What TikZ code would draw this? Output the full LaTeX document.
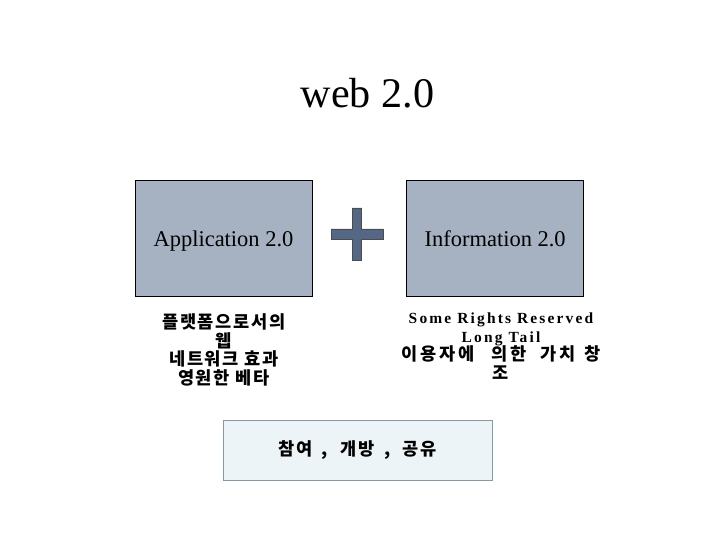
\documentclass[tikz,border=0pt]{standalone}
\usepackage{fontspec}
\setmainfont{Liberation Serif}
\newfontfamily\korfont{Noto Sans CJK KR}[LetterSpace=10]
\newfontfamily\korwide{Noto Sans CJK KR}[LetterSpace=16]
\newfontfamily\latfont{Liberation Serif}[LetterSpace=14]
\usepackage{tikz}
\usetikzlibrary{positioning}
\definecolor{boxcolor}{RGB}{166,177,193}
\definecolor{pluscolor}{RGB}{84,103,132}
\definecolor{notecolor}{RGB}{236,244,247}
\definecolor{noteedge}{RGB}{135,152,160}

\begin{document}
\begin{tikzpicture}[
    x=0.02cm, y=-0.02cm,
    block/.style={rectangle, draw=black, fill=boxcolor, minimum width=3.54cm, minimum height=2.32cm, text height=11pt, text depth=1.2pt, font=\fontsize{12.8}{15}\selectfont},
    feature/.style={align=center, font=\korfont\bfseries\fontsize{10}{10.6}\selectfont, inner sep=0pt},
    summary/.style={rectangle, draw=noteedge, fill=notecolor, minimum width=5.38cm, minimum height=1.2cm, font=\korfont\bfseries\fontsize{10}{12}\selectfont},
    plussign/.style={draw=black!70, fill=pluscolor, line width=0.5pt}
]
    \useasboundingbox (0,0) rectangle (728,546);

    \node[anchor=base] (title) at (367.5,107.7) {\fontsize{24}{28}\selectfont web 2.0};

    \node[block] (app) at (223.5,238) {Application 2.0};
    \node[block, right=1.88cm of app] (info) {Information 2.0};

    % plus between the two boxes
    \coordinate (plus) at (357,234);
    \draw[plussign] ([shift={(-4.8,-26)}]plus) -- ([shift={(4.8,-26)}]plus)
        -- ([shift={(4.8,-5)}]plus) -- ([shift={(26,-5)}]plus)
        -- ([shift={(26,5)}]plus) -- ([shift={(4.8,5)}]plus)
        -- ([shift={(4.8,26)}]plus) -- ([shift={(-4.8,26)}]plus)
        -- ([shift={(-4.8,5)}]plus) -- ([shift={(-26,5)}]plus)
        -- ([shift={(-26,-5)}]plus) -- ([shift={(-4.8,-5)}]plus) -- cycle;

    \node[feature] (appnote) at (224,350) {플랫폼으로서의\\웹\\네트워크 효과\\영원한 베타};
    \node[feature] (infonote) at (501,346) {{\latfont\fontsize{8.8}{10.6}\selectfont Some Rights Reserved}\\{\latfont\fontsize{8.8}{10.6}\selectfont Long Tail}\\{\korwide 이용자에\hspace{0.95em}의한\hspace{0.8em}가치\hspace{0.5em}창}\\조};

    \node[summary] (share) at (357.5,450) {참여\hspace{0.55em},\hspace{0.7em}개방\hspace{0.55em},\hspace{0.7em}공유};
\end{tikzpicture}
\end{document}
